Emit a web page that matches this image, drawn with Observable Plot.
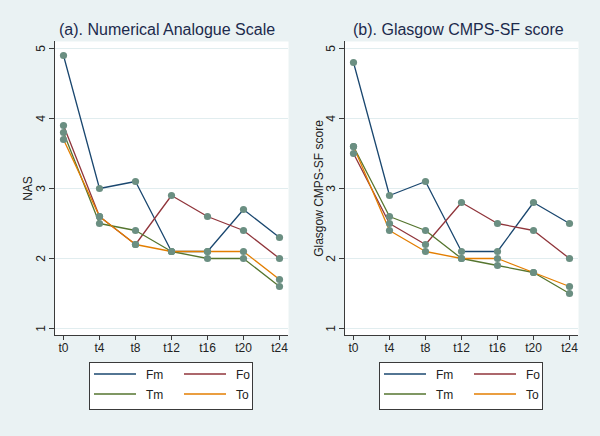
<!DOCTYPE html>
<html><head><meta charset="utf-8">
<script src="https://cdn.jsdelivr.net/npm/d3@7"></script>
<script src="https://cdn.jsdelivr.net/npm/@observablehq/plot@0.6"></script>
<style>
html,body{margin:0;padding:0;}
body{width:600px;height:436px;background:#EAF2F3;font-family:"Liberation Sans",Arial,Helvetica,sans-serif;}
#wrap{position:relative;width:600px;height:436px;overflow:hidden;}
.panel{position:absolute;top:0;width:300px;height:436px;}
.title{position:absolute;top:22px;font-size:16px;line-height:16px;color:#1c2a4c;text-align:center;white-space:nowrap;}
.legend{position:absolute;top:362px;width:162px;height:46px;background:#fff;border:1px solid #3a3a3a;}
</style>
</head><body><div id="wrap"></div>
<script>
const times = ["t0","t4","t8","t12","t16","t20","t24"];
const seriesNames = ["Fm","Fo","Tm","To"];
const seriesColors = ["#1A476F","#90353B","#55752F","#E37E00"];
const yTicks = [1,2,3,4,5];

// (a) Numerical Analogue Scale
const nasFm = [4.9,3.0,3.1,2.1,2.1,2.7,2.3];
const nasFo = [3.9,2.6,2.2,2.9,2.6,2.4,2.0];
const nasTm = [3.8,2.5,2.4,2.1,2.0,2.0,1.6];
const nasTo = [3.7,2.6,2.2,2.1,2.1,2.1,1.7];

// (b) Glasgow CMPS-SF score
const gcFm = [4.8,2.9,3.1,2.1,2.1,2.8,2.5];
const gcFo = [3.5,2.5,2.2,2.8,2.5,2.4,2.0];
const gcTm = [3.6,2.6,2.4,2.0,1.9,1.8,1.5];
const gcTo = [3.6,2.4,2.1,2.0,2.0,1.8,1.6];

const panels = [
  {left:0, mL:54, mR:12, title:"(a). Numerical Analogue Scale", titleLeft:59, titleW:214, ylabel:"NAS", legLeft:89,
   values:[nasFm,nasFo,nasTm,nasTo]},
  {left:300, mL:44, mR:22, title:"(b). Glasgow CMPS-SF score", titleLeft:53, titleW:208, ylabel:"Glasgow CMPS-SF score", legLeft:79,
   values:[gcFm,gcFo,gcTm,gcTo]}
];

const font = '"Liberation Sans",Arial,Helvetica,sans-serif';
const markerColor = "#6B8F82";
const wrap = document.getElementById("wrap");

for (const p of panels) {
  const rows = [];
  p.values.forEach((arr, si) => arr.forEach((v, ti) => rows.push({series: seriesNames[si], time: times[ti], value: v})));

  const svg = Plot.plot({
    width: 300, height: 360,
    marginLeft: p.mL, marginRight: p.mR, marginTop: 41, marginBottom: 25,
    style: {background: "transparent", fontFamily: font, fontSize: "12px", color: "#222"},
    x: {type: "point", domain: times, padding: 0.19},
    y: {domain: [0.9, 5.1]},
    color: {domain: seriesNames, range: seriesColors},
    marks: [
      Plot.frame({fill: "white", stroke: "none"}),
      Plot.ruleY(yTicks, {stroke: "#E1EDEF", strokeWidth: 1}),
      Plot.frame({anchor: "left", stroke: "#3a3a3a", strokeWidth: 1}),
      Plot.ruleY([0.9], {stroke: "#3a3a3a", strokeWidth: 1}),
      Plot.axisX({ticks: times, tickSize: 5, tickPadding: 3, label: null, fontSize: 12, stroke: "#3a3a3a"}),
      Plot.axisY({ticks: yTicks, tickSize: 5, tickFormat: () => "", label: null, stroke: "#3a3a3a"}),
      Plot.text(yTicks, {y: d => d, text: d => String(d), frameAnchor: "left", dx: -13, rotate: -90, textAnchor: "middle", lineAnchor: "middle", fontSize: 12, fill: "#222"}),
      Plot.text([p.ylabel], {text: d => d, frameAnchor: "left", dx: p.left === 0 ? -26 : -25, rotate: -90, textAnchor: "middle", lineAnchor: "middle", fontSize: 12, fill: "#222"}),
      Plot.line(rows, {x: "time", y: "value", z: "series", stroke: "series", strokeWidth: 1.3}),
      Plot.dot(rows, {x: "time", y: "value", r: 3.6, fill: markerColor, stroke: "none"})
    ]
  });

  const panel = document.createElement("div");
  panel.className = "panel";
  panel.style.left = p.left + "px";
  svg.style.position = "absolute";
  svg.style.left = "0px";
  svg.style.top = "0px";
  panel.appendChild(svg);

  const t = document.createElement("div");
  t.className = "title";
  t.style.left = p.titleLeft + "px";
  t.style.width = p.titleW + "px";
  t.textContent = p.title;
  panel.appendChild(t);

  const leg = document.createElement("div");
  leg.className = "legend";
  leg.style.left = p.legLeft + "px";
  const ns = "http://www.w3.org/2000/svg";
  const ls = document.createElementNS(ns, "svg");
  ls.setAttribute("width", 162); ls.setAttribute("height", 46);
  seriesNames.forEach((name, i) => {
    const col = i % 2, row = Math.floor(i / 2);
    const x0 = 4 + col * 90, y0 = 11 + row * 20;
    const ln = document.createElementNS(ns, "line");
    ln.setAttribute("x1", x0); ln.setAttribute("x2", x0 + 42);
    ln.setAttribute("y1", y0); ln.setAttribute("y2", y0);
    ln.setAttribute("stroke", seriesColors[i]); ln.setAttribute("stroke-width", 1.3);
    ls.appendChild(ln);
    const tx = document.createElementNS(ns, "text");
    tx.setAttribute("x", x0 + 52); tx.setAttribute("y", y0 + 4.5);
    tx.setAttribute("font-size", 12); tx.setAttribute("font-family", font);
    tx.setAttribute("fill", "#222");
    tx.textContent = name;
    ls.appendChild(tx);
  });
  leg.appendChild(ls);
  panel.appendChild(leg);
  wrap.appendChild(panel);
}
</script>
</body></html>
